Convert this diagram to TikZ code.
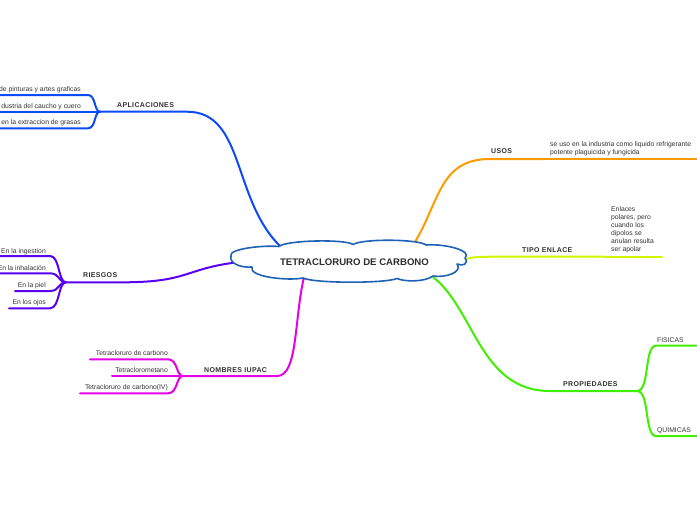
\documentclass[tikz,border=0pt]{standalone}
\usepackage{fontspec}
\setmainfont{Liberation Sans}
\newfontfamily\labfont[LetterSpace=5]{Liberation Sans}
\definecolor{ctext}{HTML}{333333}
\definecolor{cloudc}{HTML}{1F62B5}
\definecolor{capl}{HTML}{0A4BF5}
\definecolor{cries}{HTML}{5A00F0}
\definecolor{cnom}{HTML}{E600E6}
\definecolor{cusos}{HTML}{FF9A00}
\definecolor{ctipo}{HTML}{D2F500}
\definecolor{cprop}{HTML}{3FF000}
\begin{document}
\begin{tikzpicture}[x=1pt,y=-1pt,
  br/.style={line width=2pt, line cap=round, line join=round},
  lab/.style={font=\labfont\bfseries\fontsize{7}{8}\selectfont, text=ctext, inner sep=0pt, anchor=base west},
  subt/.style={font=\fontsize{6.8}{8}\selectfont, text=ctext, inner sep=0pt, anchor=base east},
  subw/.style={font=\fontsize{6.8}{8}\selectfont, text=ctext, inner sep=0pt, anchor=base west},
  para/.style={font=\fontsize{6.8}{8}\selectfont, text=ctext, inner sep=0pt, anchor=north west, align=left},
  centre/.style={font=\bfseries\fontsize{9.6}{11}\selectfont, text=ctext!90!black, inner sep=0pt}]
\useasboundingbox (0,0) rectangle (697,520);
\fill[white] (0,0) rectangle (697,520);

% ---------- APLICACIONES ----------
\coordinate (rA) at (281,247);
\coordinate (jA) at (100,111.7);
\node[lab] (apl) at (117,107) {APLICACIONES};
\draw[br,capl] (rA) .. controls (232,200) and (245,111.7) .. (187,111.7) -- (jA);
\node[subt] (a1) at (81,91) {de pinturas y artes graficas};
\node[subt] (a2) at (81,108) {dustria del caucho y cuero};
\node[subt] (a3) at (81,124.5) {en la extraccion de grasas};
\coordinate (a1e) at (-5,95);
\coordinate (a2e) at (-5,111.7);
\coordinate (a3e) at (-5,128.3);
\draw[br,capl] (jA) .. controls (94,111.7) and (96,95) .. (88,95) -- (a1e);
\draw[br,capl] (jA) -- (a2e);
\draw[br,capl] (jA) .. controls (94,111.7) and (96,128.3) .. (88,128.3) -- (a3e);

% ---------- RIESGOS ----------
\coordinate (rR) at (240,262);
\coordinate (jR) at (66,282.3);
\node[lab] (rie) at (83,277.5) {RIESGOS};
\draw[br,cries] (rR) .. controls (185,268) and (190,282.3) .. (123,282.3) -- (jR);
\node[subt] (r1) at (46,253.5) {En la ingestion};
\node[subt] (r2) at (46,270.3) {En la inhalación};
\node[subt] (r3) at (46,287.5) {En la piel};
\node[subt] (r4) at (46,304.5) {En los ojos};
\coordinate (r1e) at (-2,256);
\coordinate (r2e) at (-2,273.3);
\coordinate (r3e) at (15,291);
\coordinate (r4e) at (9,308.3);
\draw[br,cries] (jR) .. controls (58,282.3) and (60,256) .. (50,256) -- (r1e);
\draw[br,cries] (jR) .. controls (58,282.3) and (60,273.3) .. (50,273.3) -- (r2e);
\draw[br,cries] (jR) .. controls (58,282.3) and (60,291) .. (50,291) -- (r3e);
\draw[br,cries] (jR) .. controls (58,282.3) and (60,308.3) .. (50,308.3) -- (r4e);

% ---------- NOMBRES IUPAC ----------
\coordinate (rN) at (304,277);
\coordinate (jN) at (183,376);
\node[lab] (nom) at (204,372) {NOMBRES IUPAC};
\draw[br,cnom] (rN) .. controls (294,320) and (298,376) .. (277,376) -- (jN);
\node[subt] (n1) at (168,355.5) {Tetracloruro de carbono};
\node[subt] (n2) at (168,372.5) {Tetraclorometano};
\node[subt] (n3) at (168,389.5) {Tetracloruro de carbono(IV)};
\coordinate (n1e) at (90,359.3);
\coordinate (n2e) at (112,376);
\coordinate (n3e) at (80,393.3);
\draw[br,cnom] (jN) .. controls (176,376) and (178,359.3) .. (168,359.3) -- (n1e);
\draw[br,cnom] (jN) -- (n2e);
\draw[br,cnom] (jN) .. controls (176,376) and (178,393.3) .. (168,393.3) -- (n3e);

% ---------- USOS ----------
\coordinate (rU) at (415,242);
\coordinate (jU) at (545,159);
\coordinate (uE) at (702,159);
\node[lab] (uso) at (491,153.8) {USOS};
\draw[br,cusos] (rU) .. controls (440,200) and (440,159) .. (490,159) -- (jU);
\node[para] (u1) at (550,141.2) {se uso en la industria como liquido refrigerante\\potente plaguicida y fungicida};
\draw[br,cusos] (jU) -- (uE);

% ---------- TIPO ENLACE ----------
\coordinate (rT) at (466,259);
\coordinate (jT) at (605,256.7);
\coordinate (tE) at (662,256.7);
\node[lab] (tip) at (522,252) {TIPO ENLACE};
\draw[br,ctipo] (rT) .. controls (472,257) and (478,256.7) .. (500,256.7) -- (jT);
\node[para] (t1) at (611,206.2) {Enlaces\\polares, pero\\cuando los\\dipolos se\\anulan resulta\\ser apolar};
\draw[br,ctipo] (jT) -- (tE);

% ---------- PROPIEDADES ----------
\coordinate (rP) at (433,277);
\coordinate (jP) at (637,391);
\node[lab] (pro) at (563,386) {PROPIEDADES};
\draw[br,cprop] (rP) .. controls (475,310) and (480,391) .. (550,391) -- (jP);
\node[subw] (p1) at (657,342.5) {FISICAS};
\node[subw] (p2) at (657,432.5) {QUIMICAS};
\coordinate (p1e) at (702,345.7);
\coordinate (p2e) at (702,436);
\draw[br,cprop] (jP) .. controls (650,391) and (644,345.7) .. (656,345.7) -- (p1e);
\draw[br,cprop] (jP) .. controls (650,391) and (644,436) .. (656,436) -- (p2e);

% ---------- central cloud ----------
\draw[cloudc, line width=1.6pt, fill=white, line join=round]
  (231,256)
  .. controls (228,249) and (262,245) .. (279,246.5)
  .. controls (286,240) and (346,239) .. (353,244.5)
  .. controls (362,238.5) and (419,239) .. (426,245)
  .. controls (446,243.5) and (473,251) .. (465,258)
  .. controls (469,264) and (463,266.5) .. (457,264)
  .. controls (463,272) and (446,278) .. (433,276)
  .. controls (425,282) and (405,282) .. (397,278.5)
  .. controls (385,283.5) and (315,283.5) .. (303,278)
  .. controls (288,281) and (248,277) .. (252,267)
  .. controls (240,268) and (229,263) .. cycle;
\node[centre] (root) at (354.5,262) {TETRACLORURO DE CARBONO};
\end{tikzpicture}
\end{document}
